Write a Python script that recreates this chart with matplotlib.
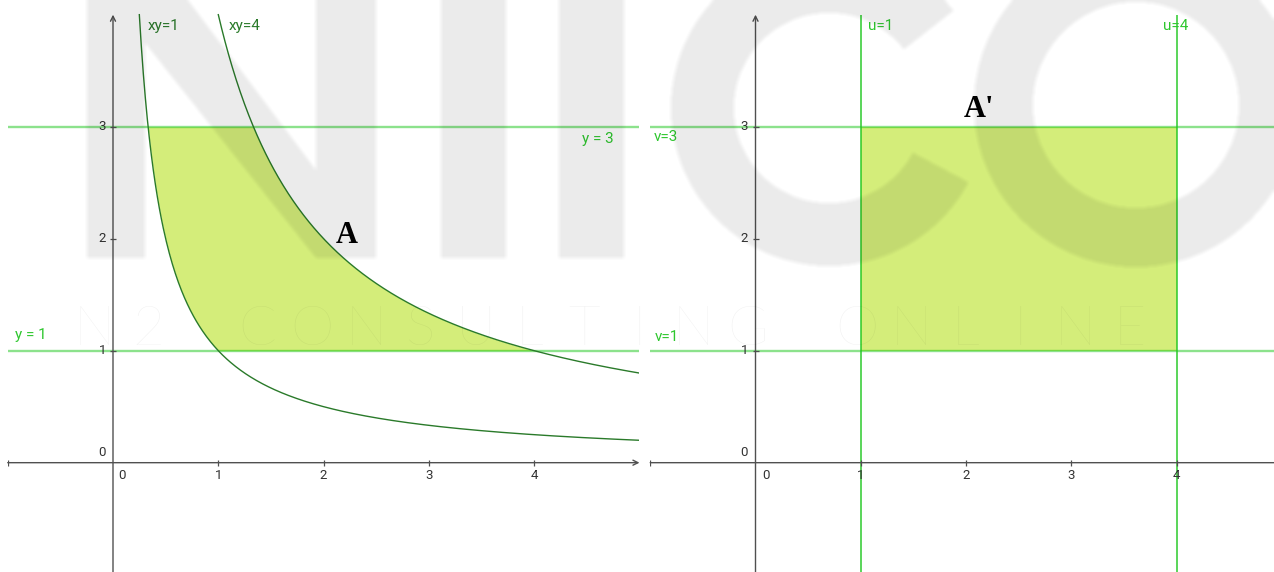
import numpy as np
import matplotlib.pyplot as plt
from matplotlib.path import Path

# curves xy = c and the bounding lines of the region
hyperbola_c = [1, 4]
y_bounds = [1, 3]
u_bounds = [1, 4]
v_bounds = [1, 3]
x_ticks = [1, 2, 3, 4]
y_ticks = [1, 2, 3]

W, H = 1274, 572
YMIN, YMAX = -0.976, 4.131
axis_c = "#505050"
curve_c = "#2a7a2a"
line_c = "#00bf00"
label_c = "#2ec72e"
fill_c = "#d4ed7a"

plt.rcParams["font.family"] = ["Roboto", "DejaVu Sans"]

fig = plt.figure(figsize=(W / 100, H / 100), dpi=100)
ax1 = fig.add_axes([7.7 / W, 0, 631.8 / W, 1])
ax2 = fig.add_axes([650.2 / W, 0, 623.4 / W, 1])


def draw_axes(ax, xmax, xlab_dx, ylab_dx):
    ax.set_xlim(-1, xmax)
    ax.set_ylim(YMIN, YMAX)
    ax.axis("off")
    arrow = dict(arrowstyle="->", color=axis_c, lw=1, shrinkA=0, shrinkB=0,
                 mutation_scale=9)
    ax.annotate("", xy=(5, 0), xytext=(-1, 0), arrowprops=arrow,
                annotation_clip=False, zorder=3)
    ax.annotate("", xy=(0, 4), xytext=(0, YMIN), arrowprops=arrow,
                annotation_clip=False, zorder=3)
    ax.plot([-1] + x_ticks, [0] * 5, "|", ms=5, mew=0.9, color=axis_c,
            zorder=3)
    ax.plot([0] * 3, y_ticks, "_", ms=5, mew=0.9, color=axis_c, zorder=3)
    for t in x_ticks:
        ax.text(t, -0.055, str(t), ha="center", va="top", fontsize=9.5,
                color="#333333")
    ax.text(xlab_dx, -0.055, "0", ha="left", va="top", fontsize=9.5,
            color="#333333")
    for t in y_ticks:
        ax.text(-ylab_dx, t, str(t), ha="right", va="center", fontsize=9.5,
                color="#333333")
    ax.text(-ylab_dx, 0.03, "0", ha="right", va="bottom", fontsize=9.5,
            color="#333333")


draw_axes(ax1, 5, 0.048, 0.066)
draw_axes(ax2, 4.92, 0.062, 0.07)

# left: region between xy=1 and xy=4 for 1 <= y <= 3
ys = np.linspace(y_bounds[0], y_bounds[1], 300)
ax1.fill_betweenx(ys, hyperbola_c[0] / ys, hyperbola_c[1] / ys,
                  color=fill_c, lw=0, zorder=1)
for c in hyperbola_c:
    xs = np.linspace(c / 4, 5, 500)
    ax1.plot(xs, c / xs, color=curve_c, lw=1, zorder=4)
for v in y_bounds:
    ax1.axhline(v, color=line_c, alpha=0.45, lw=1.7, zorder=2)

ax1.text(0.332, 3.90, "xy=1", color=curve_c, fontsize=11, va="center")
ax1.text(1.10, 3.90, "xy=4", color=curve_c, fontsize=11, va="center")
ax1.text(4.454, 2.889, "y = 3", color=label_c, fontsize=11, va="center")
ax1.text(-0.931, 1.14, "y = 1", color=label_c, fontsize=11, va="center")
ax1.text(2.222, 2.03, "A", fontsize=22, fontweight="bold",
         family="Liberation Serif", ha="center", va="center")

# right: image rectangle 1 <= u <= 4, 1 <= v <= 3
ax2.fill_between(u_bounds, v_bounds[0], v_bounds[1], color=fill_c, lw=0,
                 zorder=1)
for v in v_bounds:
    ax2.axhline(v, color=line_c, alpha=0.45, lw=1.7, zorder=2)
ax2.vlines(u_bounds, YMIN, 4, color="#22c822", alpha=0.75, lw=1.4, zorder=2)

ax2.text(1.068, 3.90, "u=1", color=label_c, fontsize=11, va="center")
ax2.text(3.87, 3.90, "u=4", color=label_c, fontsize=11, va="center")
ax2.text(-0.964, 2.908, "v=3", color=label_c, fontsize=11, va="center")
ax2.text(-0.954, 1.122, "v=1", color=label_c, fontsize=11, va="center")
ax2.text(2.122, 3.15, "A'", fontsize=22, fontweight="bold",
         family="Liberation Serif", ha="center", va="center")

# faint logo watermark over the whole figure
yy, xx = np.mgrid[0:H, 0:W] + 0.5
pts = np.column_stack([xx.ravel(), yy.ravel()])
n_shape = Path([(87, 0), (188, 0), (316, 170), (316, 0), (376, 0), (376, 258),
                (316, 258), (145, 43), (145, 258), (87, 258), (87, 0)])
mask = n_shape.contains_points(pts).reshape(H, W)
for x0, x1 in [(441, 506), (559, 624)]:
    mask |= (xx >= x0) & (xx <= x1) & (yy <= 258)
r = np.hypot(xx - 829, yy - 108)
ang = np.degrees(np.arctan2(108 - yy, xx - 829))
mask |= (r >= 95) & (r <= 158) & ~((ang > -28) & (ang < 38))
r = np.hypot(xx - 1136, yy - 105)
mask |= (r >= 103) & (r <= 162)

# soften the edges with a small box blur
soft = np.pad(mask.astype(float), 2, mode="edge")
soft = sum(soft[:, s:s + W + 4 - 4] for s in range(5)) / 5
soft = sum(soft[s:s + H, :] for s in range(5)) / 5
overlay = np.zeros((H, W, 4))
overlay[..., 3] = soft * 0.08

ax_w = fig.add_axes([0, 0, 1, 1], zorder=10)
ax_w.imshow(overlay, extent=(0, W, H, 0), interpolation="bilinear")
ax_w.set_xlim(0, W)
ax_w.set_ylim(H, 0)
ax_w.axis("off")
for k, ch in enumerate("N2 CONSULTING ONLINE"):
    ax_w.text(94 + 54.5 * k, 330, ch, fontsize=40, family="Lato",
              fontweight="light", color="black", alpha=0.05,
              ha="center", va="center")

fig.savefig("out.png", dpi=100)
